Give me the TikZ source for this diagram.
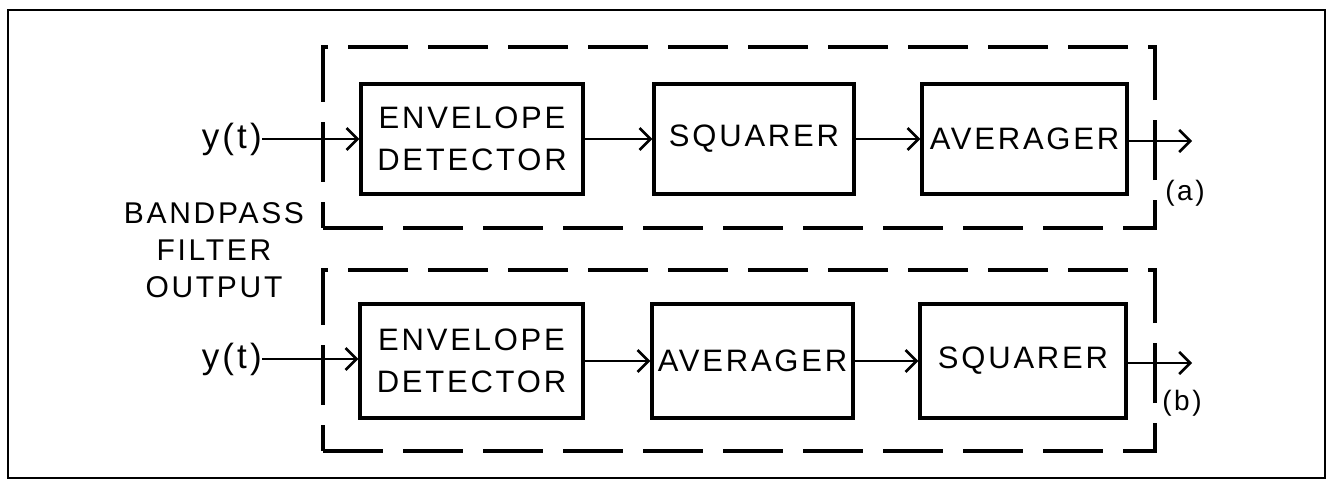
\documentclass[tikz,border=0pt]{standalone}
\usepackage{fontspec}
\setmainfont{Liberation Sans}[LetterSpace=9]
\usetikzlibrary{arrows.meta}

\begin{document}
\begin{tikzpicture}[x=1pt,y=-1pt,
  blk/.style={draw, line width=3.2pt, inner sep=0pt, align=center,
    font=\fontsize{31}{42}\selectfont},
  lbl/.style={inner sep=0pt, align=center, font=\fontsize{30}{37}\selectfont},
  tag/.style={inner sep=0pt, font=\fontsize{28}{28}\selectfont},
  sig/.style={line width=2.6pt,
    -{Straight Barb[length=11pt,width=22pt,line width=2.6pt]}},
  grp/.style={draw, line width=3.2pt, dash pattern=on 60pt off 20pt,
    inner sep=0pt, minimum width=832pt, minimum height=181pt},
]
\useasboundingbox (0,0) rectangle (1330,480);

% outer frame
\draw[line width=2.4pt] (8,10) rectangle (1325,478);

% dashed groupings
\node[grp] (grpA) at (739,137.5) {};
\node[grp] (grpB) at (739,360.5) {};

% (a) envelope detector -> squarer -> averager
\node[blk, minimum width=222pt, minimum height=110pt] (envA) at (472,139)
  {ENVELOPE\\DETECTOR};
\node[blk, minimum width=200pt, minimum height=110pt] (sqA) at (754,139)
  {SQUARER};
\node[blk, minimum width=205pt, minimum height=110pt] (avA) at (1024.5,139)
  {AVERAGER};

% (b) envelope detector -> averager -> squarer
\node[blk, minimum width=223pt, minimum height=114pt] (envB) at (471.5,361)
  {ENVELOPE\\DETECTOR};
\node[blk, minimum width=201pt, minimum height=114pt] (avB) at (752.5,361)
  {AVERAGER};
\node[blk, minimum width=206pt, minimum height=114pt] (sqB) at (1023,361)
  {SQUARER};

% inputs and outputs
\node[tag, font=\fontsize{35}{35}\selectfont, anchor=east] (yA) at (262,139) {y(t)};
\node[tag, font=\fontsize{35}{35}\selectfont, anchor=east] (yB) at (262,359) {y(t)};
\node[lbl] (bpf) at (214,250) {BANDPASS\\FILTER\\OUTPUT};
\coordinate (outA) at (1192,141);
\coordinate (outB) at (1192,363);
\node[tag] (la) at (1185,193) {(a)};
\node[tag] (lb) at (1182,403) {(b)};

% signal paths
\draw[sig] (yA.east) -- (envA.west |- yA.east);
\draw[sig] (envA.east) -- (sqA.west);
\draw[sig] (sqA.east) -- (avA.west);
\draw[sig] (avA.east |- outA) -- (outA);

\draw[sig] (yB.east) -- (envB.west |- yB.east);
\draw[sig] (envB.east) -- (avB.west);
\draw[sig] (avB.east) -- (sqB.west);
\draw[sig] (sqB.east |- outB) -- (outB);
\end{tikzpicture}
\end{document}
